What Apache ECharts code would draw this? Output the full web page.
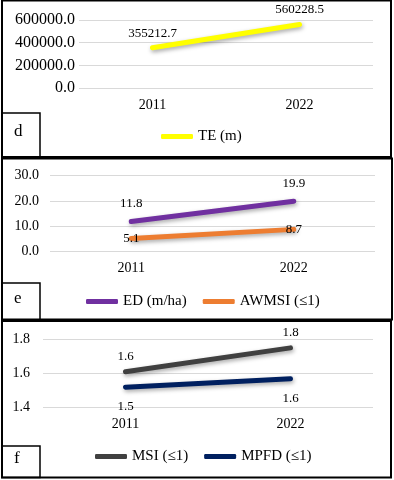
<!DOCTYPE html>
<html>
<head>
<meta charset="utf-8">
<script src="https://cdn.jsdelivr.net/npm/echarts@6/dist/echarts.min.js"></script>
<style>
  html, body { margin: 0; padding: 0; background: #fff; }
  #chart { width: 394px; height: 480px; }
</style>
</head>
<body>
<div id="chart"></div>
<script>
  // data
  const years = ['2011', '2022'];
  const teValues = [355212.7, 560228.5];
  const edValues = [11.8, 19.9];
  const awmsiValues = [5.1, 8.7];
  const msiValues = [1.61, 1.75];
  const mpfdValues = [1.52, 1.57];
  const ticksD = [0, 200000, 400000, 600000];
  const ticksE = [0, 10, 20, 30];
  const ticksF = [1.4, 1.6, 1.8];
  const panelLetters = ['d', 'e', 'f'];

  const font = '"Liberation Serif", "Times New Roman", serif';
  const fmt1 = function (v) { return Number(v).toFixed(1); };

  function yAxis(gridIndex, ticks, fontSize, margin) {
    return {
      type: 'value',
      gridIndex: gridIndex,
      min: ticks[0],
      max: ticks[ticks.length - 1],
      interval: ticks[1] - ticks[0],
      axisLine: { show: false },
      axisTick: { show: false },
      axisLabel: { color: '#000', fontFamily: font, fontSize: fontSize, margin: margin, formatter: fmt1 },
      splitLine: { lineStyle: { color: '#D9D9D9', width: 1 } }
    };
  }

  function xAxis(gridIndex) {
    return {
      type: 'category',
      gridIndex: gridIndex,
      data: years,
      boundaryGap: true,
      axisLine: { show: false },
      axisTick: { show: false },
      axisLabel: { color: '#000', fontFamily: font, fontSize: 14, margin: 10 }
    };
  }

  function lineSeries(name, data, color, idx, label) {
    return {
      name: name,
      type: 'line',
      xAxisIndex: idx,
      yAxisIndex: idx,
      data: data,
      symbol: 'circle',
      symbolSize: 0,
      showSymbol: true,
      lineStyle: {
        color: color,
        width: 5,
        cap: 'round',
        shadowColor: 'rgba(0,0,0,0.35)',
        shadowBlur: 4,
        shadowOffsetX: 1,
        shadowOffsetY: 2
      },
      itemStyle: { color: color },
      label: Object.assign({
        show: true,
        color: '#000',
        fontFamily: font,
        fontSize: 13,
        formatter: function (p) { return fmt1(p.value); }
      }, label)
    };
  }

  function legend(names, left, top) {
    return {
      data: names,
      left: left,
      top: top,
      icon: 'roundRect',
      itemWidth: 32,
      itemHeight: 5,
      itemGap: 16,
      textStyle: { color: '#000', fontFamily: font, fontSize: 15 }
    };
  }

  const panels = [
    { x: 2, y: 0.5, w: 389, h: 156.5 },
    { x: 2, y: 158.5, w: 390, h: 161 },
    { x: 2, y: 321, w: 389, h: 156.5 }
  ];
  const letterBoxes = [
    { x: 2, y: 113, w: 38, h: 44 },
    { x: 2, y: 283, w: 38, h: 37 },
    { x: 2, y: 446, w: 38, h: 31.5 }
  ];

  const graphics = [];
  panels.forEach(function (p) {
    graphics.push({
      type: 'rect',
      shape: { x: p.x, y: p.y, width: p.w, height: p.h },
      style: { fill: 'none', stroke: '#000', lineWidth: 2 }
    });
  });
  letterBoxes.forEach(function (b, i) {
    graphics.push({
      type: 'rect',
      shape: { x: b.x, y: b.y, width: b.w, height: b.h },
      style: { fill: 'none', stroke: '#000', lineWidth: 1.5 }
    });
    graphics.push({
      type: 'text',
      x: b.x + 12,
      y: b.y + b.h / 2 - 3,
      style: { text: panelLetters[i], fill: '#000', font: '17px ' + font, verticalAlign: 'middle' }
    });
  });

  const option = {
    animation: false,
    grid: [
      { left: 79, width: 294, top: 20, height: 68 },
      { left: 50, width: 325, top: 175.7, height: 75.6 },
      { left: 43, width: 330, top: 339.3, height: 68.4 }
    ],
    xAxis: [xAxis(0), xAxis(1), xAxis(2)],
    yAxis: [
      yAxis(0, ticksD, 16, 4),
      yAxis(1, ticksE, 14, 11),
      yAxis(2, ticksF, 14, 13)
    ],
    legend: [
      legend(['TE (m)'], 156, 124),
      legend(['ED (m/ha)', 'AWMSI (≤1)'], 81, 289),
      legend(['MSI (≤1)', 'MPFD (≤1)'], 90, 444)
    ],
    series: [
      lineSeries('TE (m)', teValues, '#FFFF00', 0, { position: 'top', distance: 8 }),
      lineSeries('ED (m/ha)', edValues, '#7030A0', 1, { position: 'top', distance: 11 }),
      lineSeries('AWMSI (≤1)', awmsiValues, '#ED7D31', 1, { position: 'inside' }),
      lineSeries('MSI (≤1)', msiValues, '#404040', 2, { position: 'top', distance: 9 }),
      lineSeries('MPFD (≤1)', mpfdValues, '#002060', 2, { position: 'bottom', distance: 13 })
    ],
    graphic: graphics
  };

  const myChart = echarts.init(document.getElementById('chart'));
  myChart.setOption(option);
</script>
</body>
</html>
